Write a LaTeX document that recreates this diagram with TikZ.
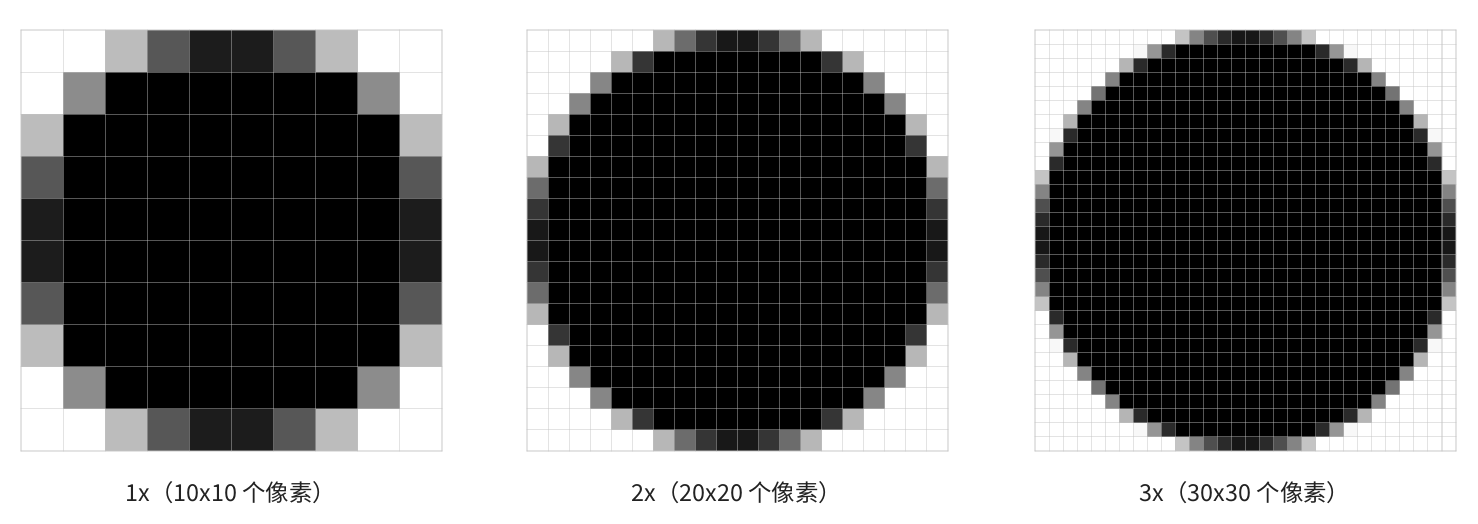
\documentclass[tikz,border=0pt]{standalone}
\usepackage{fontspec}
\setmainfont{Noto Sans CJK SC}
\usepackage{tikz}
\definecolor{gridline}{RGB}{195,195,195}
\definecolor{captext}{RGB}{34,34,34}
\tikzset{cellgrid/.style={draw=gridline,draw opacity=.45,line width=.6pt},
 caption/.style={font=\fontsize{13.3}{16}\selectfont,text=captext,inner sep=0pt},
 every picture/.style={line join=round,line cap=round}}

\begin{document}
\begin{tikzpicture}[x=0.02cm,y=-0.02cm]
\useasboundingbox (0,0) rectangle (1478,524);
\foreach \ox/\n in {21/10,527/20,1035/30}{
  \pgfmathsetmacro{\cell}{421/\n}
  \pgfmathsetmacro{\rad}{\n/2}
  \foreach \i in {1,...,\n}{
    \foreach \j in {1,...,\n}{
      \pgfmathsetmacro{\dist}{sqrt((\i-0.5-\rad)^2+(\j-0.5-\rad)^2)}
      \pgfmathsetmacro{\cov}{max(0,min(1,\rad-\dist+0.5))}
      % softer edge shades, full black inside
      \pgfmathsetmacro{\shade}{\cov>=1 ? 100 : 92*\cov^1.2}
      \path[fill=black!\shade] ({\ox+(\i-1)*\cell},{30+(\j-1)*\cell}) rectangle ++(\cell,\cell);
    }
  }
  \foreach \k in {0,...,\n}{
    \draw[cellgrid] ({\ox+\k*\cell},30) -- ++(0,421);
    \draw[cellgrid] (\ox,{30+\k*\cell}) -- ++(421,0);
  }
}
\node[caption] (cap1) at (231,493) {1x（10x10 个像素）};
\node[caption] (cap2) at (737,493) {2x（20x20 个像素）};
\node[caption] (cap3) at (1245,493) {3x（30x30 个像素）};
\end{tikzpicture}
\end{document}
